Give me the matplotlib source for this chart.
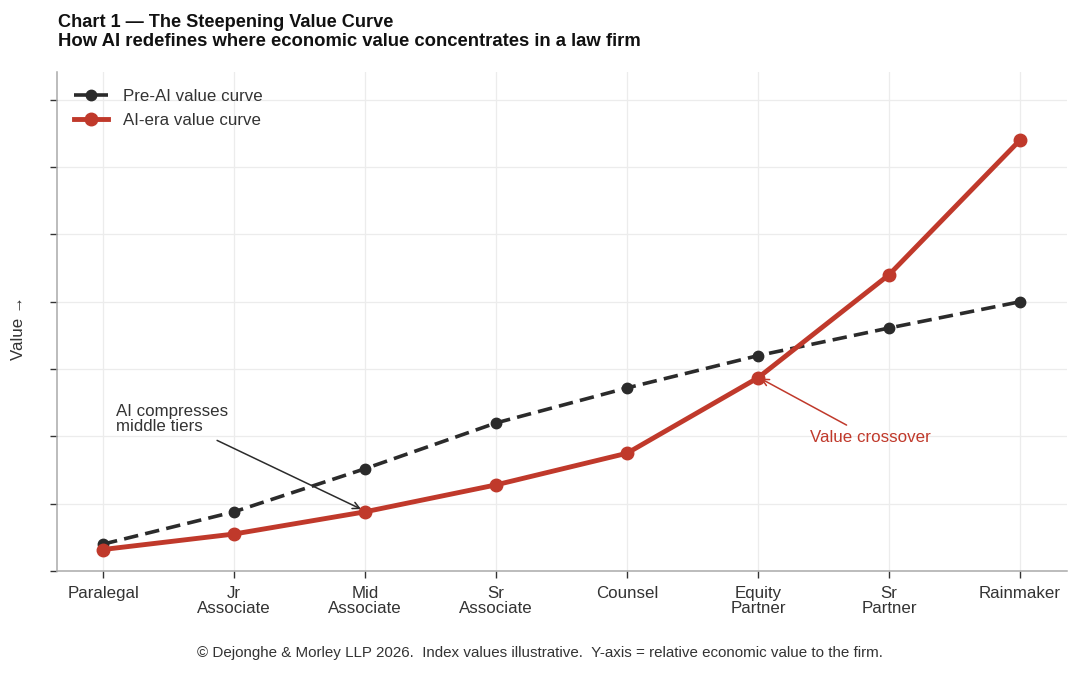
import matplotlib
matplotlib.use("Agg")
import matplotlib.pyplot as plt

plt.rcParams['font.family'] = ['Liberation Sans', 'DejaVu Sans']

tiers = ["Paralegal", "Jr\nAssociate", "Mid\nAssociate", "Sr\nAssociate", "Counsel",
         "Equity\nPartner", "Sr\nPartner", "Rainmaker"]
pre_ai = [4.0, 8.8, 15.2, 22.0, 27.2, 32.0, 36.1, 40.0]
ai_era = [3.2, 5.5, 8.8, 12.8, 17.5, 28.7, 44.0, 64.0]
yticks = [0, 10, 20, 30, 40, 50, 60, 70]

BLACK = "#2b2b2b"
RED = "#c0392b"
FS = 12.2

fig = plt.figure(figsize=(10.8, 6.75), dpi=100)
ax = fig.add_axes([0.053, 0.154, 0.935, 0.739])
x = list(range(len(tiers)))

ax.plot(x, pre_ai, color=BLACK, lw=2.6, ls=(0, (4, 2)), marker='o', ms=7.5,
        label="Pre-AI value curve", zorder=3)
ax.plot(x, ai_era, color=RED, lw=3.5, marker='o', ms=9,
        label="AI-era value curve", zorder=4)

ax.set_xlim(-0.35, 7.36)
ax.set_ylim(0, 74.1)
ax.set_xticks(x)
ax.set_xticklabels(tiers, fontsize=FS, color="#333333", linespacing=1.0)
ax.set_yticks(yticks)
ax.set_yticklabels([])
ax.tick_params(axis='both', length=5, color="#333333", width=1)
ax.tick_params(axis='x', pad=6)
ax.grid(True, color="#ececec", lw=0.9)
ax.set_axisbelow(True)
for s in ['top', 'right']:
    ax.spines[s].set_visible(False)
for s in ['left', 'bottom']:
    ax.spines[s].set_color("#aaaaaa")
    ax.spines[s].set_linewidth(1.1)

ax.set_ylabel("Value \u2192", fontsize=FS, color="#333333")
ax.yaxis.set_label_coords(-0.031, 0.487)

leg = ax.legend(loc='upper left', frameon=False, fontsize=FS,
                bbox_to_anchor=(0.0, 1.0), handlelength=2.0, labelspacing=0.5,
                borderaxespad=0.6, handletextpad=0.9)
for t in leg.get_texts():
    t.set_color("#333333")

ax.annotate("AI compresses\nmiddle tiers", xy=(1.97, 9.2), xytext=(0.1, 20.3),
            fontsize=FS, color="#333333", ha='left', va='bottom',
            linespacing=1.0,
            arrowprops=dict(arrowstyle='->', color=BLACK, lw=1.1,
                            shrinkA=0, shrinkB=0, relpos=(0.9, -0.2)))
ax.annotate("Value crossover", xy=(5.02, 28.6), xytext=(5.4, 19.9),
            fontsize=FS, color=RED, ha='left', va='center',
            arrowprops=dict(arrowstyle='->', color=RED, lw=1.1,
                            shrinkA=0, shrinkB=0, relpos=(0.3, 1.3)))

fig.text(0.054, 0.967, "Chart 1 \u2014 The Steepening Value Curve", fontsize=13.1,
         fontweight='bold', ha='left', va='center', color="#111111")
fig.text(0.054, 0.938, "How AI redefines where economic value concentrates in a law firm",
         fontsize=13.3, fontweight='bold', ha='left', va='center', color="#111111")
fig.text(0.5, 0.032, "\u00a9 Dejonghe & Morley LLP 2026.  Index values illustrative.  "
         "Y-axis = relative economic value to the firm.",
         fontsize=10.9, ha='center', va='center', color="#333333")

fig.savefig("out.png", dpi=100)
